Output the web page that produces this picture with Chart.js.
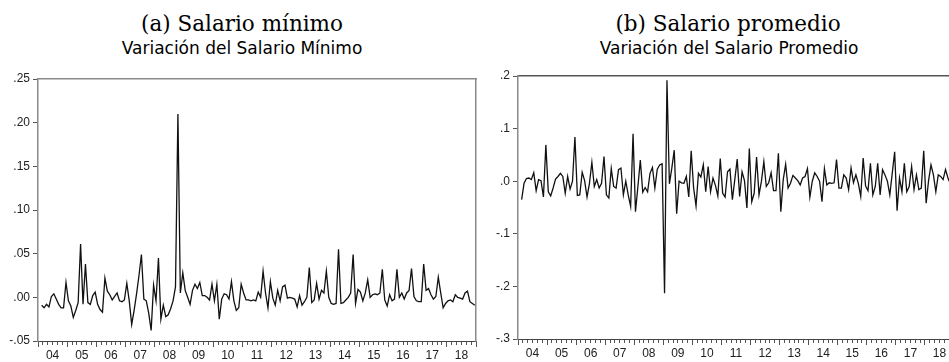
<!DOCTYPE html>
<html>
<head>
<meta charset="utf-8">
<script src="https://cdn.jsdelivr.net/npm/chart.js@4.4.1/dist/chart.umd.min.js"></script>
<style>
    html, body { margin: 0; padding: 0; background: #fff; width: 949px; height: 362px; overflow: hidden; }
    .caption { position: absolute; top: 13px; text-align: center; font-family: "DejaVu Serif", serif; font-size: 21.5px; line-height: 21px; color: #000; white-space: nowrap; }
    .subtitle { position: absolute; top: 40px; text-align: center; font-family: "DejaVu Sans", sans-serif; font-size: 17px; line-height: 16px; color: #000; white-space: nowrap; }
    canvas { position: absolute; top: 0; }
</style>
</head>
<body>
<div class="caption" style="left:0;width:484px">(a) Salario mínimo</div>
<div class="subtitle" style="left:0;width:484px">Variación del Salario Mínimo</div>
<canvas id="chartMinimo" width="480" height="362" style="left:0"></canvas>

<div class="caption" style="left:480px;width:496px">(b) Salario promedio</div>
<div class="subtitle" style="left:480px;width:498px">Variación del Salario Promedio</div>
<canvas id="chartPromedio" width="480" height="362" style="left:480px"></canvas>

<script>
'use strict';

// monthly series, 2004m2 .. 2018m12
const startYear = 2004;
const startMonth = 2;
const yearLabels = ['04', '05', '06', '07', '08', '09', '10', '11', '12', '13', '14', '15', '16', '17', '18'];

const minimoValues = [
    -0.009, -0.012, -0.008, -0.011, 0.001, 0.004, -0.002, -0.008, -0.012, -0.012, 0.017,          // 2004
    -0.004, -0.010, -0.023, -0.015, -0.006, 0.061, -0.008, 0.038, -0.006, -0.008, 0.002, 0.006,   // 2005
    -0.008, -0.014, -0.017, 0.022, 0.007, 0.003, -0.003, 0.001, 0.005, -0.004, -0.005, -0.003,    // 2006
    0.016, -0.004, -0.031, -0.015, 0.004, 0.025, 0.049, -0.002, -0.004, -0.018, -0.038, 0.014,    // 2007
    -0.004, 0.045, -0.025, -0.009, -0.022, -0.020, -0.013, -0.004, 0.012, 0.210, 0.005, 0.028,   // 2008
    0.008, 0.000, -0.008, 0.008, 0.015, 0.010, 0.017, 0.002, 0.002, 0.000, -0.003, 0.015,        // 2009
    -0.004, 0.015, -0.025, -0.002, 0.004, 0.003, -0.002, 0.018, -0.004, -0.015, -0.012, 0.015,   // 2010
    0.005, -0.003, -0.003, -0.004, -0.003, -0.004, 0.006, 0.000, 0.030, 0.005, -0.012, 0.018,    // 2011
    -0.001, -0.009, 0.008, -0.004, 0.012, 0.014, -0.001, 0.000, -0.001, -0.002, -0.011, 0.002,   // 2012
    -0.009, -0.005, 0.000, 0.034, -0.006, -0.003, 0.016, -0.002, 0.008, 0.005, 0.030, 0.000,     // 2013
    -0.007, -0.008, -0.007, 0.055, -0.007, -0.006, -0.003, 0.000, 0.005, 0.049, -0.007, 0.009,   // 2014
    0.006, -0.004, 0.005, 0.020, 0.000, 0.003, 0.004, 0.003, 0.005, 0.032, -0.003, -0.010,       // 2015
    0.003, -0.004, -0.002, 0.032, 0.000, 0.005, -0.002, 0.005, 0.008, 0.033, 0.001, -0.004,      // 2016
    -0.005, -0.005, 0.038, 0.008, 0.010, 0.003, -0.002, 0.001, 0.023, 0.005, -0.012, -0.007,     // 2017
    -0.004, -0.003, -0.005, 0.003, 0.000, -0.001, -0.002, 0.005, 0.007, -0.005, -0.007, -0.009   // 2018
];

const promedioValues = [
    -0.035, -0.004, 0.005, 0.006, 0.003, 0.016, -0.018, 0.003, 0.001, -0.030, 0.069,            // 2004
    -0.020, -0.028, -0.013, 0.004, 0.009, 0.015, 0.009, -0.023, 0.009, -0.015, 0.000, 0.084,     // 2005
    -0.027, -0.026, 0.017, 0.001, -0.030, -0.004, 0.036, -0.010, 0.003, -0.013, -0.004, 0.047,   // 2006
    -0.026, -0.032, 0.024, -0.010, -0.013, 0.022, 0.025, -0.026, 0.000, -0.026, -0.048, 0.090,   // 2007
    -0.058, -0.010, 0.040, -0.021, -0.012, -0.020, 0.015, 0.026, -0.013, 0.023, 0.031, 0.033,    // 2008
    -0.213, 0.192, -0.005, 0.025, 0.059, -0.062, 0.000, -0.003, -0.004, 0.009, -0.030, 0.058,    // 2009
    -0.013, -0.047, 0.015, 0.008, 0.031, -0.020, 0.028, -0.020, 0.006, -0.008, -0.028, 0.043,    // 2010
    -0.023, -0.030, 0.018, 0.023, -0.035, 0.003, 0.042, -0.029, 0.018, 0.001, -0.051, 0.062,     // 2011
    -0.039, -0.023, 0.046, -0.026, 0.000, 0.037, -0.010, -0.003, 0.016, -0.018, -0.018, 0.053,   // 2012
    -0.058, 0.003, 0.032, -0.013, -0.004, 0.011, 0.006, 0.001, -0.007, 0.006, 0.009, 0.024,      // 2013
    -0.030, 0.000, 0.016, 0.009, 0.000, -0.039, 0.024, -0.007, -0.003, -0.004, -0.003, 0.041,    // 2014
    -0.013, -0.013, 0.012, 0.006, -0.016, 0.025, -0.003, 0.012, -0.004, -0.029, 0.044, -0.009,   // 2015
    -0.018, 0.034, -0.026, -0.010, 0.034, -0.026, 0.022, 0.012, 0.000, -0.026, 0.015, 0.056,     // 2016
    -0.056, 0.006, -0.020, 0.034, -0.020, -0.010, 0.028, -0.016, 0.012, -0.016, -0.013, 0.058,   // 2017
    -0.042, 0.001, 0.031, 0.012, -0.020, 0.012, 0.009, 0.003, 0.022, 0.006, -0.005, 0.010        // 2018
];

const minimoTicks = [-0.05, 0.25, 0.05];   // min, max, step
const promedioTicks = [-0.3, 0.2, 0.1];

const totalMonths = yearLabels.length * 12;

// eviews style label: .05 / -.05
function shortNumber(v, decimals) {
    if (Math.abs(v) < 1e-9) v = 0;
    return v.toFixed(decimals).replace(/^(-?)0\./, '$1.');
}

function renderSeries(elementId, values, yTicks, decimals, opts) {
    const chartElement = document.getElementById(elementId);
    const ctx = chartElement.getContext('2d');

    // each observation sits in the middle of its month
    const offset = startMonth - 1;
    const points = values.map((v, i) => ({ x: offset + i + 0.5, y: v }));

    const tickFont = { family: '"Liberation Sans", Arial, sans-serif', size: 12 };

    return new Chart(ctx, {
        type: 'line',
        data: {
            datasets: [{
                data: points,
                borderColor: '#111',
                borderWidth: 1.3,
                pointRadius: 0,
                tension: 0,
                fill: false
            }]
        },
        options: {
            responsive: false,
            animation: false,
            events: [],
            layout: { padding: { top: opts.top, right: opts.right, left: 0, bottom: 0 } },
            plugins: { legend: { display: false }, tooltip: { enabled: false } },
            scales: {
                x: {
                    type: 'linear',
                    position: 'bottom',
                    min: 0,
                    max: totalMonths,
                    afterBuildTicks: scale => {
                        const ticks = [];
                        for (let m = 0; m <= totalMonths; m += 2) ticks.push({ value: m });
                        scale.ticks = ticks;
                    },
                    afterFit: scale => { scale.height = 362 - opts.bottom; },
                    border: { display: true, color: opts.bottomColor, width: 1 },
                    grid: {
                        display: true,
                        drawOnChartArea: false,
                        drawTicks: true,
                        tickLength: 6,
                        tickColor: '#555',
                        tickWidth: 1,
                        // short marks every two months, long marks at the year boundary
                        tickBorderDash: c => (c.tick && c.tick.value % 12 === 0) ? [] : [3, 20]
                    },
                    ticks: {
                        autoSkip: false,
                        maxRotation: 0,
                        padding: 1,
                        color: '#222',
                        font: tickFont,
                        callback: v => (v % 12 === 6) ? yearLabels[(v - 6) / 12] : ''
                    }
                },
                xTop: {
                    type: 'linear',
                    position: 'top',
                    min: 0,
                    max: totalMonths,
                    afterFit: scale => { scale.height = 0; },
                    border: { display: true, color: opts.frameColor, width: opts.frameWidth },
                    grid: { display: false },
                    ticks: { display: false }
                },
                y: {
                    position: 'left',
                    min: yTicks[0],
                    max: yTicks[1],
                    afterFit: scale => { scale.width = 38; },
                    border: { display: true, color: opts.leftColor, width: opts.frameWidth },
                    grid: {
                        drawOnChartArea: false,
                        drawTicks: true,
                        tickLength: 5,
                        tickColor: '#555'
                    },
                    ticks: {
                        stepSize: yTicks[2],
                        padding: 3,
                        color: '#222',
                        font: tickFont,
                        callback: v => shortNumber(v, decimals)
                    }
                },
                yRight: {
                    position: 'right',
                    min: yTicks[0],
                    max: yTicks[1],
                    afterFit: scale => { scale.width = 0; },
                    border: { display: true, color: opts.frameColor, width: opts.frameWidth },
                    grid: { display: false },
                    ticks: { display: false }
                }
            }
        }
    });
}

renderSeries('chartMinimo', minimoValues, minimoTicks, 2, {
    top: 79, bottom: 341, right: 4,
    frameColor: '#8a8a8a', leftColor: '#8a8a8a', bottomColor: '#444', frameWidth: 1.5
});

renderSeries('chartPromedio', promedioValues, promedioTicks, 1, {
    top: 76, bottom: 339, right: 6,
    frameColor: '#555', leftColor: '#8a8a8a', bottomColor: '#444', frameWidth: 1.5
});
</script>
</body>
</html>
